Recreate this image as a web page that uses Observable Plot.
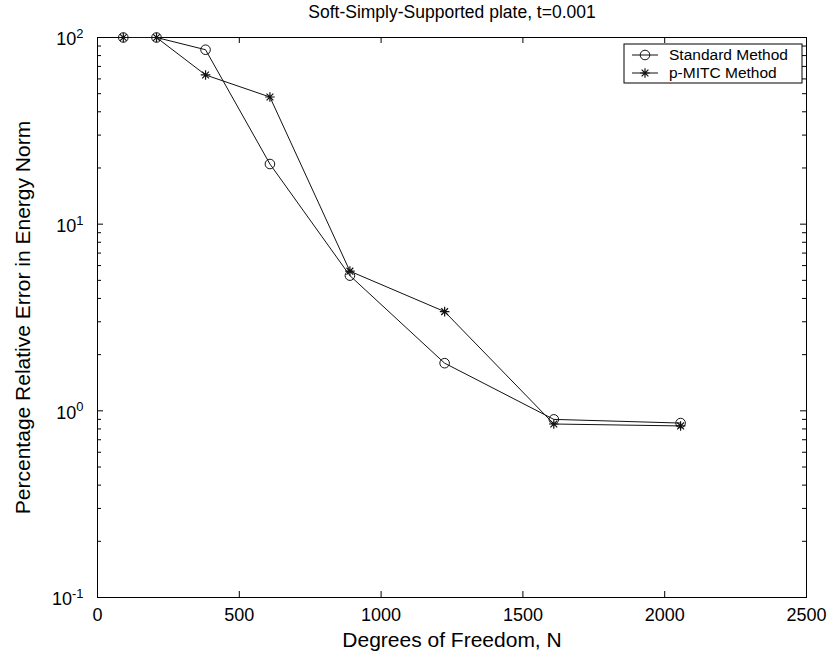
<!DOCTYPE html>
<html>
<head>
<meta charset="utf-8">
<script src="https://cdn.jsdelivr.net/npm/d3@7"></script>
<script src="https://cdn.jsdelivr.net/npm/@observablehq/plot@0.6"></script>
<style>
  body { margin: 0; background: #fff; }
  #chart svg { font-family: "Liberation Sans", Arial, Helvetica, sans-serif; display: block; }
</style>
</head>
<body>
<div id="chart"></div>
<script>
// Degrees of freedom and percentage relative error in the energy norm
const dof = [91, 208, 381, 608, 890, 1224, 1609, 2056];
const standardError = [100, 100, 86, 21, 5.3, 1.8, 0.9, 0.86];
const pmitcError = [100, 100, 63, 48, 5.6, 3.4, 0.85, 0.83];
const seriesNames = ["Standard Method", "p-MITC Method"];

// Axis ticks
const xTicks = [0, 500, 1000, 1500, 2000, 2500];
const yDecades = [0.1, 1, 10, 100];
const yMinor = [0.2, 0.3, 0.4, 0.5, 0.6, 0.7, 0.8, 0.9,
                2, 3, 4, 5, 6, 7, 8, 9,
                20, 30, 40, 50, 60, 70, 80, 90];

const titleText = "Soft-Simply-Supported plate, t=0.001";
const xLabel = "Degrees of Freedom, N";
const yLabel = "Percentage Relative Error in Energy Norm";

const W = 836, H = 657;
const mL = 97, mR = 30, mT = 37, mB = 60;
const innerW = W - mL - mR, innerH = H - mT - mB;
const majorLen = 6, minorLen = 4;
const tickFont = 18, labelFont = 21, titleFont = 17.5, legendFont = 15.5;

const rows = dof.map((n, i) => ({n, standard: standardError[i], pmitc: pmitcError[i]}));

// MATLAB-style "*" marker: plus sign overlaid with a cross
const starSymbol = {
  draw(ctx, size) {
    const r = Math.sqrt(size / Math.PI);
    const d = r * Math.SQRT1_2;
    ctx.moveTo(-r, 0); ctx.lineTo(r, 0);
    ctx.moveTo(0, -r); ctx.lineTo(0, r);
    ctx.moveTo(-d, -d); ctx.lineTo(d, d);
    ctx.moveTo(-d, d); ctx.lineTo(d, -d);
  }
};

const exponent = v => Math.round(Math.log10(v));

const chart = Plot.plot({
  width: W,
  height: H,
  marginLeft: mL,
  marginRight: mR,
  marginTop: mT,
  marginBottom: mB,
  style: {background: "#fff", color: "#000"},
  x: {domain: [0, 2500], axis: null},
  y: {type: "log", domain: [0.1, 100], axis: null},
  marks: [
    Plot.frame({stroke: "#000", strokeWidth: 1}),
    // inward ticks on all four sides
    Plot.tickX(xTicks, {x: d => d, insetTop: innerH - majorLen, stroke: "#000"}),
    Plot.tickX(xTicks, {x: d => d, insetBottom: innerH - majorLen, stroke: "#000"}),
    Plot.tickY(yDecades, {y: d => d, insetRight: innerW - majorLen, stroke: "#000"}),
    Plot.tickY(yDecades, {y: d => d, insetLeft: innerW - majorLen, stroke: "#000"}),
    Plot.tickY(yMinor, {y: d => d, insetRight: innerW - minorLen, stroke: "#000"}),
    Plot.tickY(yMinor, {y: d => d, insetLeft: innerW - minorLen, stroke: "#000"}),
    // tick labels
    Plot.text(xTicks, {x: d => d, frameAnchor: "bottom", lineAnchor: "middle", dy: 18,
                       text: d => String(d), fontSize: tickFont}),
    Plot.text(yDecades, {y: d => d, frameAnchor: "left", lineAnchor: "middle", dx: -14, dy: 2,
                         textAnchor: "end", text: d => "10^" + exponent(d), fontSize: tickFont}),
    // series
    Plot.line(rows, {x: "n", y: "standard", stroke: "#111", strokeWidth: 1}),
    Plot.line(rows, {x: "n", y: "pmitc", stroke: "#111", strokeWidth: 1}),
    Plot.dot(rows, {x: "n", y: "standard", r: 4.8, stroke: "#111", fill: "none", strokeWidth: 1}),
    Plot.dot(rows, {x: "n", y: "pmitc", r: 4.8, symbol: starSymbol, stroke: "#111", strokeWidth: 1.2}),
    // title and axis labels
    Plot.text([titleText], {frameAnchor: "top", lineAnchor: "middle", dy: -25, fontSize: titleFont}),
    Plot.text([xLabel], {frameAnchor: "bottom", lineAnchor: "middle", dy: 43, fontSize: labelFont}),
    Plot.text([yLabel], {frameAnchor: "left", lineAnchor: "middle", textAnchor: "middle",
                         dx: -74, rotate: -90, fontSize: labelFont})
  ]
});

document.getElementById("chart").appendChild(chart);

// Render decade labels as 10 with a raised exponent
d3.select(chart).selectAll("text").each(function () {
  const t = this.textContent;
  const m = /^10\^(-?\d+)$/.exec(t);
  if (!m) return;
  const el = d3.select(this);
  el.text("10");
  el.append("tspan").attr("dy", "-0.55em").attr("font-size", "72%").text(m[1]);
});

// Legend box in the upper-right corner
const svg = d3.select(chart);
const lg = svg.append("g").attr("font-size", legendFont).attr("text-anchor", "start");
lg.append("rect").attr("x", 624).attr("y", 44).attr("width", 178).attr("height", 39)
  .attr("fill", "#fff").attr("stroke", "#000").attr("stroke-width", 1);
const legendRows = [
  {name: seriesNames[0], y: 55, marker: "circle"},
  {name: seriesNames[1], y: 73, marker: "star"}
];
legendRows.forEach(r => {
  lg.append("line").attr("x1", 632).attr("x2", 658).attr("y1", r.y).attr("y2", r.y)
    .attr("stroke", "#111");
  if (r.marker === "circle") {
    lg.append("circle").attr("cx", 645).attr("cy", r.y).attr("r", 4.8)
      .attr("fill", "none").attr("stroke", "#111");
  } else {
    lg.append("path").attr("transform", `translate(645,${r.y})`)
      .attr("d", d3.symbol(starSymbol, 4.8 * 4.8 * Math.PI)())
      .attr("fill", "none").attr("stroke", "#111").attr("stroke-width", 1.2);
  }
  lg.append("text").attr("x", 669).attr("y", r.y).attr("dy", "0.35em").text(r.name);
});
</script>
</body>
</html>
